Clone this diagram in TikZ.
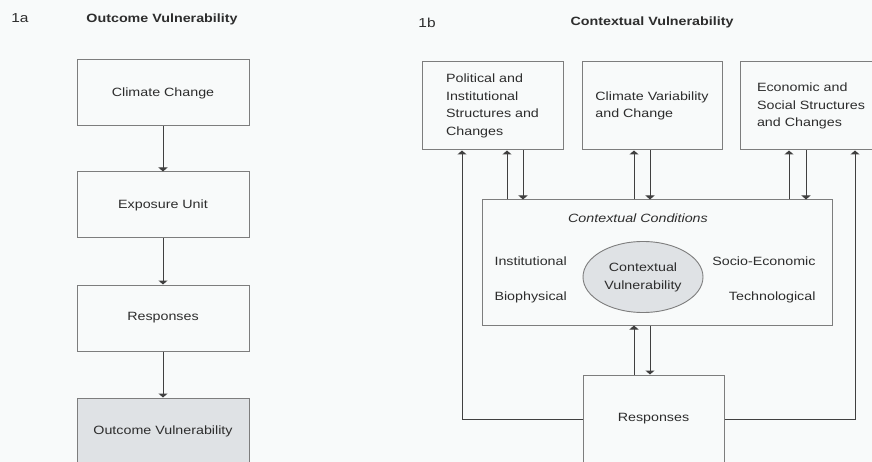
\documentclass[tikz,border=0pt]{standalone}
\usepackage{fontspec}
\setmainfont[FakeStretch=1.19]{Liberation Sans}
\usetikzlibrary{arrows.meta,shapes.geometric}

\definecolor{boxgray}{RGB}{223,226,229}
\definecolor{linegray}{RGB}{125,125,125}
\definecolor{txtgray}{RGB}{45,45,45}
\definecolor{bgcol}{RGB}{248,250,250}

\begin{document}
\begin{tikzpicture}[x=1pt,y=-1pt,
    every node/.style={font=\fontsize{12}{17.5}\selectfont, text=txtgray},
    titlefont/.style={font=\fontsize{12}{13}\selectfont\bfseries},
    box/.style={draw=linegray, line width=1pt, inner sep=0pt},
    arr/.style={-{Triangle[length=4pt,width=9pt]}, draw=black!75, line width=1pt}]

    \fill[bgcol] (0,0) rectangle (872,462);
    \useasboundingbox (0,0) rectangle (872,462);

    % 1a: Outcome Vulnerability
    \node[font=\fontsize{13}{14}\selectfont] (lbla) at (20,18) {1a};
    \node[titlefont] (titlea) at (162,19) {Outcome Vulnerability};

    \node[box, minimum width=172pt, minimum height=66pt] (clim) at (163,93) {Climate Change};
    \node[box, minimum width=172pt, minimum height=66pt] (expo) at (163,205) {Exposure Unit};
    \node[box, minimum width=172pt, minimum height=66pt] (respa) at (163,318) {Responses};
    \node[box, fill=boxgray, minimum width=172pt, minimum height=66pt] (outv) at (163,431) {Outcome Vulnerability};

    \draw[arr] (clim.south) -- (expo.north);
    \draw[arr] (expo.south) -- (respa.north);
    \draw[arr] (respa.south) -- (outv.north);

    % 1b: Contextual Vulnerability
    \node[font=\fontsize{13}{14}\selectfont] (lblb) at (427,23) {1b};
    \node[titlefont] (titleb) at (652,22) {Contextual Vulnerability};

    \node[box, minimum width=141pt, minimum height=88pt, align=left] (polit) at (492.5,106) {Political and\\Institutional\\Structures and\\Changes};
    \node[box, minimum width=140pt, minimum height=88pt, align=left] (climv) at (652,106) {Climate Variability\\and Change};
    \node[box, minimum width=142pt, minimum height=88pt, align=left] (econ) at (811,106) {Economic and\\Social Structures\\and Changes};

    \node[box, minimum width=350pt, minimum height=125pt] (ctx) at (657,262.5) {};
    \node[font=\fontsize{12}{13}\selectfont\itshape] (cond) at (638,218) {Contextual Conditions};
    \node[anchor=west] (inst) at (491,261) {Institutional};
    \node[anchor=west] (bioph) at (491,297) {Biophysical};
    \node[anchor=east] (socec) at (819,261) {Socio-Economic};
    \node[anchor=east] (techn) at (819,297) {Technological};
    \node[ellipse, draw=linegray, line width=0.9pt, fill=boxgray, minimum width=120pt, minimum height=71pt,
          inner sep=0pt, align=center, font=\fontsize{12}{18}\selectfont] (ctxv) at (643,277) {Contextual\\Vulnerability};

    \node[box, minimum width=141pt, minimum height=88pt] (respb) at (653.5,419) {Responses};

    % arrow feet
    \coordinate (polup) at ([xshift=14.5pt]polit.south);
    \coordinate (poldn) at ([xshift=30.5pt]polit.south);
    \coordinate (polback) at ([xshift=-30.5pt]polit.south);
    \coordinate (climup) at ([xshift=-18pt]climv.south);
    \coordinate (climdn) at ([xshift=-2pt]climv.south);
    \coordinate (econup) at ([xshift=-22pt]econ.south);
    \coordinate (econdn) at ([xshift=-5pt]econ.south);
    \coordinate (econback) at ([xshift=44pt]econ.south);

    \draw[arr] (polup |- ctx.north) -- (polup);
    \draw[arr] (poldn) -- (poldn |- ctx.north);
    \draw[arr] (climup |- ctx.north) -- (climup);
    \draw[arr] (climdn) -- (climdn |- ctx.north);
    \draw[arr] (econup |- ctx.north) -- (econup);
    \draw[arr] (econdn) -- (econdn |- ctx.north);

    \draw[arr] (climup |- respb.north) -- (climup |- ctx.south);
    \draw[arr] (climdn |- ctx.south) -- (climdn |- respb.north);

    \draw[arr] (respb.west) -| (polback);
    \draw[arr] (respb.east) -| (econback);

\end{tikzpicture}
\end{document}
